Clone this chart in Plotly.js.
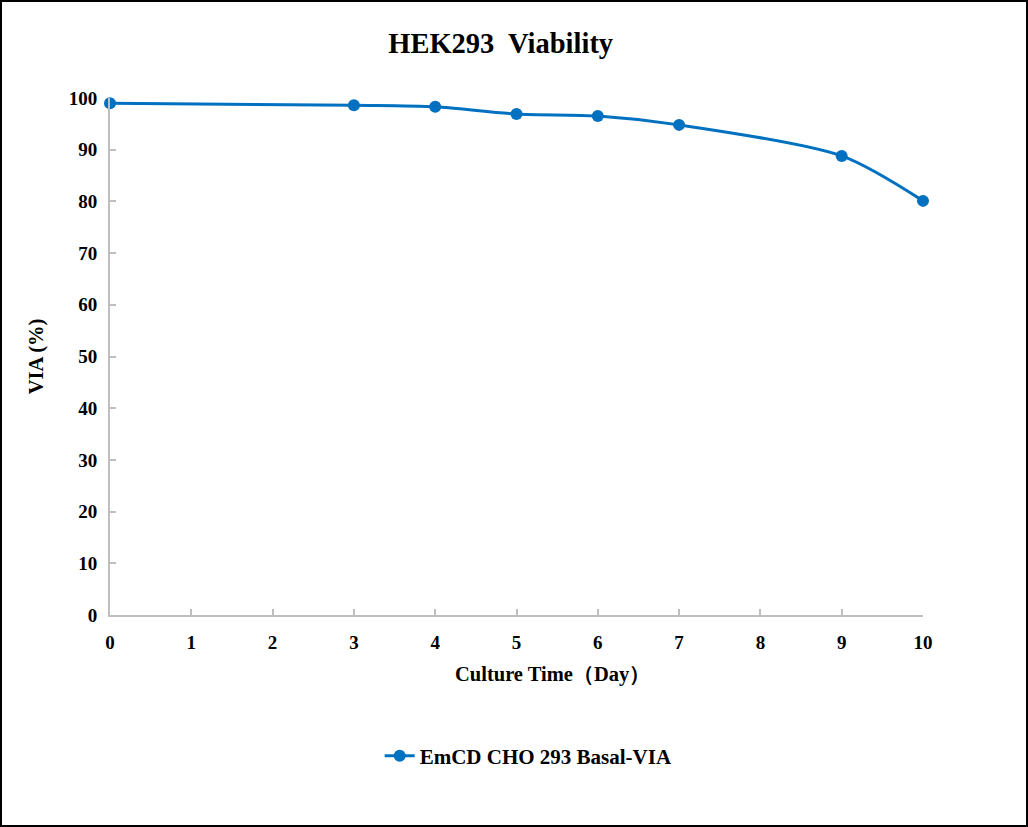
<!DOCTYPE html>
<html>
<head>
<meta charset="utf-8">
<script src="https://cdn.plot.ly/plotly-3.0.1.min.js"></script>
<style>
html,body{margin:0;padding:0;background:#fff;}
#chart{width:1024px;height:823px;border:2px solid #000;}
</style>
</head>
<body>
<div id="chart"></div>
<script>
const days = [0, 3, 4, 5, 6, 7, 9, 10];
const viability = [99.0, 98.6, 98.3, 96.9, 96.5, 94.8, 88.8, 80.1];
const seriesName = 'EmCD CHO 293 Basal-VIA';
const xTicks = [0,1,2,3,4,5,6,7,8,9,10];
const yTicks = [0,10,20,30,40,50,60,70,80,90,100];
const xTitle = 'Culture Time（Day）';

const fontFam = '"Liberation Serif", "Times New Roman", serif';
const trace = {
  x: days, y: viability, name: seriesName,
  type: 'scatter', mode: 'lines+markers',
  line: {color: '#0070C0', width: 3, shape: 'spline', smoothing: 0.8},
  marker: {color: '#0070C0', size: 12},
  cliponaxis: false
};
const layout = {
  width: 1024, height: 823,
  margin: {l: 108, r: 103, t: 96, b: 210},
  paper_bgcolor: '#fff', plot_bgcolor: '#fff',
  font: {family: fontFam, size: 18, color: '#000', weight: 'bold'},
  title: {text: 'HEK293  Viability', font: {family: fontFam, size: 28.5, weight: 'bold', color: '#000'}, x: 0.487, xanchor: 'center', y: 0.950, yanchor: 'middle'},
  showlegend: true,
  legend: {orientation: 'h', x: 0.515, xanchor: 'center', y: -0.273, yanchor: 'middle', font: {family: fontFam, size: 21, weight: 'bold'}},
  annotations: [{
    text: xTitle, xref: 'paper', yref: 'paper', x: 0.544, y: -0.116,
    xanchor: 'center', yanchor: 'middle', showarrow: false,
    font: {family: fontFam, size: 20.5, weight: 'bold', color: '#000'}
  }],
  xaxis: {
    range: [0, 10], tickvals: xTicks, ticktext: xTicks.map(String),
    showgrid: false, zeroline: false, showline: true, linecolor: '#BFBFBF', linewidth: 2,
    ticks: 'inside', ticklen: 6, tickcolor: '#BFBFBF', tickwidth: 2, ticklabelstandoff: 9,
    tickfont: {family: fontFam, size: 19, weight: 'bold'}
  },
  yaxis: {
    range: [0, 100], tickvals: yTicks, ticktext: yTicks.map(String),
    showgrid: false, zeroline: false, showline: true, linecolor: '#BFBFBF', linewidth: 2,
    ticks: 'inside', ticklen: 6, tickcolor: '#BFBFBF', tickwidth: 2, ticklabelstandoff: 7,
    tickfont: {family: fontFam, size: 19, weight: 'bold'},
    title: {text: 'VIA (%)', font: {family: fontFam, size: 20.5, weight: 'bold'}, standoff: 20}
  }
};
Plotly.newPlot('chart', [trace], layout, {displayModeBar: false, staticPlot: true});
</script>
</body>
</html>
